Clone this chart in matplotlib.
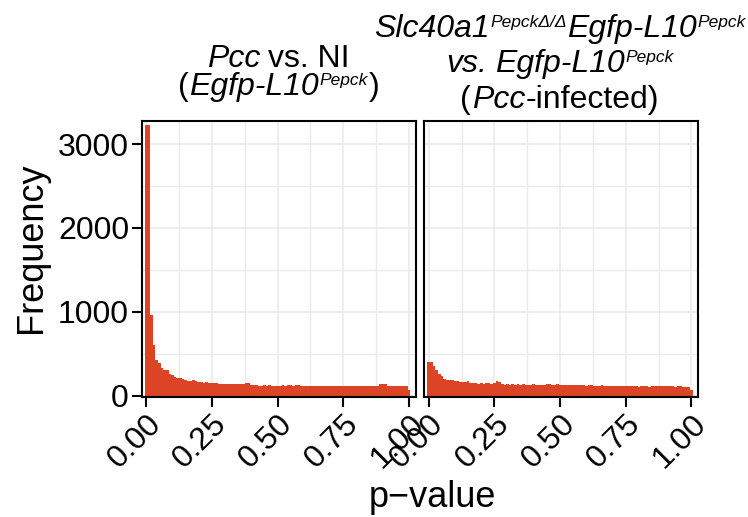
import matplotlib
matplotlib.use('Agg')
import matplotlib.pyplot as plt
from matplotlib.transforms import IdentityTransform
import numpy as np

plt.rcParams['font.family'] = ['Liberation Sans', 'DejaVu Sans']

# ---------------- data ----------------
bin_width = 0.01
counts_pcc_vs_ni = [
    3224, 3224, 960, 603, 424, 395, 330, 312, 305, 258,
    250, 222, 215, 212, 195, 190, 175, 172, 188, 180,
    165, 160, 157, 158, 155, 154, 152, 150, 140, 138,
    137, 140, 138, 136, 140, 138, 135, 137, 148, 150,
    128, 122, 124, 120, 121, 123, 119, 122, 120, 121,
    118, 120, 122, 119, 124, 123, 120, 126, 122, 121,
    117, 119, 121, 116, 118, 120, 115, 119, 117, 121,
    118, 116, 119, 117, 120, 118, 115, 117, 119, 116,
    118, 114, 117, 115, 118, 116, 119, 114, 117, 135,
    138, 136, 120, 117, 121, 119, 117, 120, 118, 116,
    65]
counts_ko_vs_ctrl = [
    400, 398, 356, 304, 253, 233, 200, 190, 185, 182,
    173, 172, 165, 167, 168, 173, 150, 148, 152, 145,
    147, 145, 153, 150, 145, 146, 170, 168, 135, 133,
    134, 132, 136, 133, 134, 131, 138, 130, 132, 128,
    135, 129, 133, 130, 128, 140, 134, 130, 131, 136,
    128, 125, 127, 124, 128, 125, 126, 123, 129, 125,
    121, 124, 126, 120, 119, 117, 122, 116, 118, 120,
    117, 115, 119, 116, 114, 113, 112, 115, 110, 112,
    108, 111, 110, 113, 109, 111, 110, 114, 118, 112,
    110, 113, 111, 115, 109, 110, 112, 108, 106, 104,
    72]
x_ticks = [0.0, 0.25, 0.5, 0.75, 1.0]
x_ticklabels = ["0.00", "0.25", "0.50", "0.75", "1.00"]
x_minor = [0.125, 0.375, 0.625, 0.875]
y_ticks = [0, 1000, 2000, 3000]
y_ticklabels = ["0", "1000", "2000", "3000"]
y_minor = [500, 1500, 2500]

BAR = '#DC4426'
GRID = '#EBEBEB'
W, H = 748, 517

fig = plt.figure(figsize=(W / 100, H / 100), dpi=100)


def px_axes(x0, x1, ytop, ybot):
    return fig.add_axes([x0 / W, 1 - ybot / H, (x1 - x0) / W, (ybot - ytop) / H])


ax1 = px_axes(141.5, 415.5, 121.3, 396.7)
ax2 = px_axes(424.0, 698.0, 121.3, 396.7)

for ax, counts in [(ax1, counts_pcc_vs_ni), (ax2, counts_ko_vs_ctrl)]:
    centers = np.arange(len(counts)) * bin_width
    ax.bar(centers, counts, width=bin_width, color=BAR, linewidth=0, zorder=2)
    ax.set_xlim(-0.018, 1.025)
    ax.set_ylim(-12, 3272)
    ax.set_xticks(x_ticks)
    ax.set_xticklabels(x_ticklabels, rotation=45, ha='right', va='top',
                       rotation_mode='anchor', fontsize=23)
    ax.set_xticks(x_minor, minor=True)
    ax.set_yticks(y_ticks)
    ax.set_yticklabels(y_ticklabels, fontsize=23)
    ax.set_yticks(y_minor, minor=True)
    ax.grid(which='major', color=GRID, lw=1.2, zorder=0)
    ax.grid(which='minor', color=GRID, lw=1.0, zorder=0)
    ax.set_axisbelow(True)
    ax.tick_params(which='minor', length=0)
    ax.tick_params(which='major', length=7, width=1.5, color='black', pad=2)
    for s in ax.spines.values():
        s.set_linewidth(1.5)
        s.set_color('black')
        s.set_zorder(3)

ax2.tick_params(axis='y', left=False, labelleft=False)

ident = IdentityTransform()
fig.text(31, H - 248, 'Frequency', rotation=90, ha='center', va='center',
         fontsize=26, transform=ident)
fig.text(432, H - 507, 'p\u2212value', ha='center', va='baseline',
         fontsize=26, transform=ident)

MAIN = 23
SUP = 12.5
RISE = 10
renderer = fig.canvas.get_renderer()


def rich_line(segs, xc, yb_img, gap=0.8):
    items = []
    for seg in segs:
        if seg[0] == 'gap':
            items.append(('gap', seg[1], 0))
            continue
        txt, italic, size, rise = seg
        t = fig.text(0, 0, txt, fontsize=size,
                     style='italic' if italic else 'normal',
                     ha='left', va='baseline', transform=ident)
        w = t.get_window_extent(renderer=renderer).width
        items.append((t, w, rise))
    total = 0
    for i, (t, w, r) in enumerate(items):
        total += w
        if i < len(items) - 1 and t != 'gap' and items[i + 1][0] != 'gap':
            total += gap
    x = xc - total / 2
    for i, (t, w, r) in enumerate(items):
        if t != 'gap':
            t.set_position((x, H - yb_img + r))
        x += w
        if i < len(items) - 1 and t != 'gap' and items[i + 1][0] != 'gap':
            x += gap


SPACE = 8
# left title
rich_line([('Pcc', True, MAIN, 0), ('gap', SPACE), ('vs. NI', False, MAIN, 0)],
          278.5, 66.7)
rich_line([('(', False, MAIN, 0), ('Egfp-L10', True, MAIN, 0),
           ('Pepck', True, SUP, RISE), (')', False, MAIN, 0)], 278.5, 95)
# right title
rich_line([('Slc40a1', True, MAIN, 0), ('Pepck\u0394/\u0394', True, SUP, RISE),
           ('Egfp-L10', True, MAIN, 0), ('Pepck', True, SUP, RISE)], 560, 36.7)
rich_line([('vs.', True, MAIN, 0), ('gap', SPACE), ('Egfp-L10', True, MAIN, 0),
           ('Pepck', True, SUP, RISE)], 560, 71.7)
rich_line([('(', False, MAIN, 0), ('Pcc', True, MAIN, 0),
           ('-infected)', False, MAIN, 0)], 560, 108.3)

fig.savefig('out.png', dpi=100)
